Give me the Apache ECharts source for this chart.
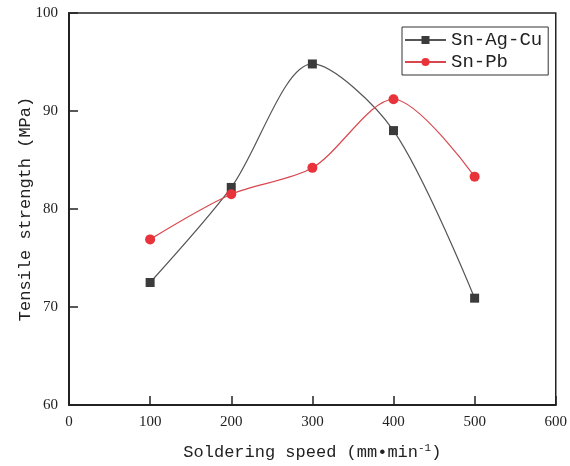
<!DOCTYPE html>
<html>
<head>
<meta charset="utf-8">
<script src="https://cdn.jsdelivr.net/npm/echarts@6/dist/echarts.min.js"></script>
<style>
  html, body { margin: 0; padding: 0; background: #fff; }
  #chart { width: 570px; height: 466px; }
</style>
</head>
<body>
<div id="chart"></div>
<script>
// Soldering speed (mm/min) and tensile strength (MPa) per solder alloy
const speeds = [100, 200, 300, 400, 500];
const snAgCu = [72.5, 82.2, 94.8, 88.0, 70.9];
const snPb = [76.9, 81.5, 84.2, 91.2, 83.3];
const seriesNames = ['Sn-Ag-Cu', 'Sn-Pb'];

const titleFont = 'Liberation Mono';
const tickFont = 'Liberation Serif';

const chart = echarts.init(document.getElementById('chart'), null, { renderer: 'canvas' });

function pairs(xs, ys) {
  return xs.map((x, i) => [x, ys[i]]);
}

chart.setOption({
  animation: false,
  backgroundColor: '#fff',
  grid: {
    left: 69, right: 14, top: 13, bottom: 61,
    show: true, borderColor: '#222', borderWidth: 1.5, backgroundColor: 'transparent'
  },
  legend: {
    left: 402, top: 27,
    orient: 'vertical',
    data: seriesNames,
    itemWidth: 41, itemHeight: 10, itemGap: 2,
    borderColor: '#333', borderWidth: 1,
    padding: [3, 6, 3, 2],
    textStyle: { fontFamily: titleFont, fontSize: 19, color: '#222', lineHeight: 20 }
  },
  xAxis: {
    type: 'value', min: 0, max: 600, interval: 100,
    name: 'Soldering speed (mm•min{sup|-1})',
    nameLocation: 'middle', nameGap: 38, nameMoveOverlap: false,
    nameTextStyle: {
      fontFamily: titleFont, fontSize: 17, color: '#222',
      rich: { sup: { fontFamily: titleFont, fontSize: 11, color: '#222', verticalAlign: 'top', padding: [0, 0, 8, 0] } }
    },
    axisLine: { show: true, lineStyle: { color: '#222', width: 2 } },
    axisTick: { show: true, inside: true, length: 9, lineStyle: { color: '#222', width: 1.5 } },
    axisLabel: { fontFamily: tickFont, fontSize: 15, color: '#222', margin: 10 },
    splitLine: { show: false }
  },
  yAxis: {
    type: 'value', min: 60, max: 100, interval: 10,
    name: 'Tensile strength (MPa)',
    nameLocation: 'middle', nameGap: 35, nameMoveOverlap: false,
    nameTextStyle: { fontFamily: titleFont, fontSize: 17, color: '#222' },
    axisLine: { show: true, lineStyle: { color: '#222', width: 2 } },
    axisTick: { show: true, inside: true, length: 9, lineStyle: { color: '#222', width: 1.5 } },
    axisLabel: { fontFamily: tickFont, fontSize: 15, color: '#222', margin: 11 },
    splitLine: { show: false }
  },
  series: [
    {
      name: seriesNames[0], type: 'line', smooth: 0.3,
      data: pairs(speeds, snAgCu),
      symbol: 'rect', symbolSize: 9,
      itemStyle: { color: '#3b3b3b' },
      lineStyle: { color: '#555', width: 1.2 },
      z: 3
    },
    {
      name: seriesNames[1], type: 'line', smooth: 0.3,
      data: pairs(speeds, snPb),
      symbol: 'circle', symbolSize: 10,
      itemStyle: { color: '#e8333b' },
      lineStyle: { color: '#d9474e', width: 1.2 },
      z: 4
    }
  ]
});
</script>
</body>
</html>
